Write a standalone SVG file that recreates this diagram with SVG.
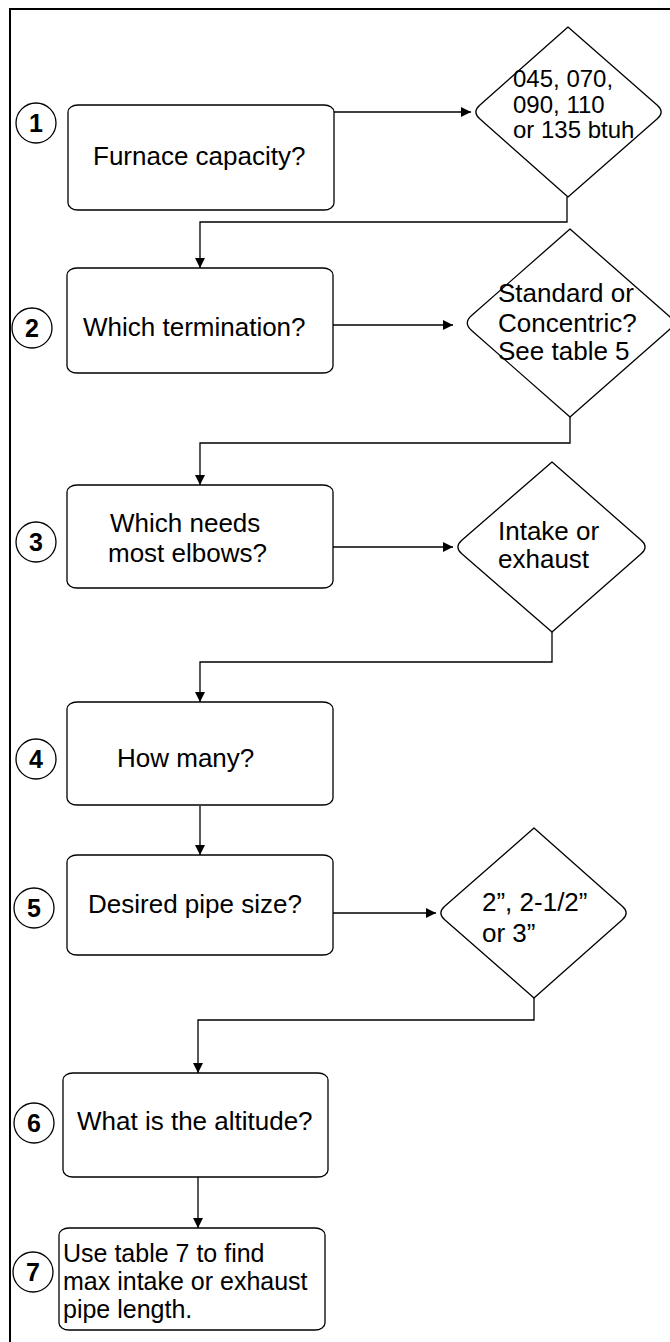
<svg xmlns="http://www.w3.org/2000/svg" width="670" height="1342" viewBox="0 0 670 1342">
<style>
.box{fill:#fff;stroke:#000;stroke-width:1.3}
.dia{fill:#fff;stroke:#000;stroke-width:1.3;stroke-linejoin:round}
.num{fill:#fff;stroke:#000;stroke-width:1.3}
.t{font-family:"Liberation Sans",Arial,sans-serif;font-size:26px;fill:#000}
.t24{font-family:"Liberation Sans",Arial,sans-serif;font-size:24px;fill:#000}
.t25{font-family:"Liberation Sans",Arial,sans-serif;font-size:25px;fill:#000}
.n{font-family:"Liberation Sans",Arial,sans-serif;font-size:25px;font-weight:bold;fill:#000;text-anchor:middle}
.c{fill:none;stroke:#000;stroke-width:1.3}
</style>
<defs>
<marker id="ah" viewBox="0 0 10 10" refX="10" refY="5" markerWidth="11" markerHeight="10" markerUnits="userSpaceOnUse" orient="auto">
<path d="M0,0 L10,5 L0,10 Z" fill="#000"/>
</marker>
</defs>
<rect x="0" y="0" width="670" height="1342" fill="#fff"/>
<path d="M10,1342 L10,9 L670,9" fill="none" stroke="#000" stroke-width="2"/>

<g id="connectors">
<path class="c" d="M334,112 L471,112" marker-end="url(#ah)"/>
<path class="c" d="M567,197 L567,222 L200,222 L200,268" marker-end="url(#ah)"/>
<path class="c" d="M333,325 L453,325" marker-end="url(#ah)"/>
<path class="c" d="M570,417 L570,443 L200,443 L200,485" marker-end="url(#ah)"/>
<path class="c" d="M333,547 L453,547" marker-end="url(#ah)"/>
<path class="c" d="M552,632 L552,662 L200,662 L200,702" marker-end="url(#ah)"/>
<path class="c" d="M200,806 L200,855" marker-end="url(#ah)"/>
<path class="c" d="M333,913 L436,913" marker-end="url(#ah)"/>
<path class="c" d="M534,998 L534,1020 L198,1020 L198,1073" marker-end="url(#ah)"/>
<path class="c" d="M198,1177 L198,1228" marker-end="url(#ah)"/>
</g>

<g id="step1">
<circle class="num" cx="36" cy="123" r="20"/>
<text class="n" x="36" y="132">1</text>
<rect class="box" x="68" y="105" width="266" height="105" rx="10" ry="7"/>
<text class="t" x="93" y="165">Furnace capacity?</text>
</g>
<g id="dec1">
<path class="dia" d="M568,27 L657.3,105.2 Q665,112 657.3,118.8 L568,197 L479.7,118.8 Q472,112 479.7,105.2 Z"/>
<text class="t24" x="513" y="87">045, 070,</text>
<text class="t24" x="513" y="113">090, 110</text>
<text class="t24" x="513" y="138">or 135 btuh</text>
</g>

<g id="step2">
<circle class="num" cx="32" cy="328" r="20"/>
<text class="n" x="32" y="337">2</text>
<rect class="box" x="67" y="268" width="266" height="105" rx="10" ry="7"/>
<text class="t" x="83" y="336">Which termination?</text>
</g>
<g id="dec2">
<path class="dia" d="M570,229 L668.4,315.5 Q677,323 668.4,330.5 L570,417 L471.6,330.5 Q463,323 471.6,315.5 Z"/>
<text class="t" x="498" y="302">Standard or</text>
<text class="t" x="498" y="332">Concentric?</text>
<text class="t" x="498" y="360">See table 5</text>
</g>

<g id="step3">
<circle class="num" cx="36" cy="542" r="20"/>
<text class="n" x="36" y="551">3</text>
<rect class="box" x="67" y="485" width="266" height="103" rx="10" ry="7"/>
<text class="t" x="110" y="532">Which needs</text>
<text class="t" x="108" y="562">most elbows?</text>
</g>
<g id="dec3">
<path class="dia" d="M552,462 L641.2,540.2 Q649,547 641.2,553.8 L552,632 L461.8,553.8 Q454,547 461.8,540.2 Z"/>
<text class="t" x="498" y="540">Intake or</text>
<text class="t" x="498" y="568">exhaust</text>
</g>

<g id="step4">
<circle class="num" cx="36" cy="759" r="20"/>
<text class="n" x="36" y="768">4</text>
<rect class="box" x="67" y="702" width="266" height="103" rx="10" ry="7"/>
<text class="t" x="117" y="767">How many?</text>
</g>

<g id="step5">
<circle class="num" cx="34" cy="908" r="20"/>
<text class="n" x="34" y="917">5</text>
<rect class="box" x="67" y="855" width="266" height="100" rx="10" ry="7"/>
<text class="t" x="88" y="913">Desired pipe size?</text>
</g>
<g id="dec4">
<path class="dia" d="M534,828 L622.3,906.2 Q630,913 622.3,919.8 L534,998 L444.7,919.8 Q437,913 444.7,906.2 Z"/>
<text class="t" x="482" y="911">2”, 2-1/2”</text>
<text class="t" x="482" y="942">or 3”</text>
</g>

<g id="step6">
<circle class="num" cx="34" cy="1123" r="20"/>
<text class="n" x="34" y="1132">6</text>
<rect class="box" x="63" y="1073" width="265" height="104" rx="10" ry="7"/>
<text class="t" x="77" y="1130">What is the altitude?</text>
</g>

<g id="step7">
<circle class="num" cx="33" cy="1272" r="20"/>
<text class="n" x="33" y="1281">7</text>
<rect class="box" x="59" y="1228" width="266" height="102" rx="10" ry="7"/>
<text class="t25" x="63" y="1262">Use table 7 to find</text>
<text class="t25" x="63" y="1290">max intake or exhaust</text>
<text class="t25" x="63" y="1318">pipe length.</text>
</g>
</svg>
